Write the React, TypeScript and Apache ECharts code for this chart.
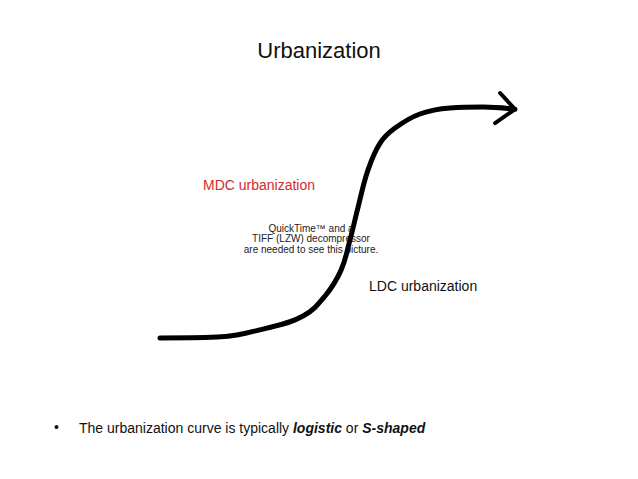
import React, { useEffect, useRef } from "react";
import * as echarts from "echarts";

// S-curve of urbanization (time % vs urban share %)
const curveX = [0, 16.1, 30.1, 40.3, 46.5, 51.0, 53.5, 55.8, 58.6, 62.0, 66.2, 73.2, 81.7, 91.0, 100];
const curveY = [0, 0.4, 4.3, 9.5, 18.2, 29.4, 42.4, 56.7, 72.8, 84.4, 90.9, 97.0, 99.6, 100, 99.1];
// arrow head arms
const arrowX = [95.8, 100, 94.4];
const arrowY = [106.1, 99.1, 93.1];

const titleText = "Urbanization";
const mdcLabel = "MDC urbanization";
const ldcLabel = "LDC urbanization";
const qtLines = ["QuickTime™ and a", "TIFF (LZW) decompressor", "are needed to see this picture."];

const FONT = "'Liberation Sans', Arial, Helvetica, sans-serif";

export default function App() {
  const ref = useRef<HTMLDivElement>(null);
  useEffect(() => {
    if (!ref.current) return;
    const chart = echarts.init(ref.current, undefined, { renderer: "svg" });
    chart.setOption({
      animation: false,
      backgroundColor: "#ffffff",
      title: {
        text: titleText,
        left: "center",
        top: 34,
        textStyle: { fontFamily: FONT, fontSize: 22, fontWeight: "normal", color: "#111" },
      },
      grid: { left: 160, right: 123, top: 84, bottom: 141 },
      xAxis: { type: "value", min: 0, max: 100, show: false },
      yAxis: { type: "value", min: 0, max: 110, show: false },
      series: [
        {
          type: "line",
          data: curveX.map((x, i) => [x, curveY[i]]),
          smooth: 0.4,
          symbol: "none",
          clip: false,
          lineStyle: { color: "#000", width: 5, cap: "round", join: "round" },
        },
        {
          type: "line",
          data: arrowX.map((x, i) => [x, arrowY[i]]),
          symbol: "none",
          clip: false,
          lineStyle: { color: "#000", width: 4, cap: "round", join: "miter" },
        },
      ],
      graphic: [
        {
          type: "text",
          left: 203,
          top: 178,
          style: { text: mdcLabel, fill: "#d42a2a", font: `14px ${FONT}` },
        },
        {
          type: "text",
          left: 369,
          top: 279,
          style: { text: ldcLabel, fill: "#111", font: `14px ${FONT}` },
        },
        {
          type: "text",
          x: 311,
          y: 223,
          style: {
            text: qtLines.join("\n"),
            fill: "#222",
            font: `10px ${FONT}`,
            align: "center",
            lineHeight: 10.5,
          },
        },
        {
          type: "text",
          left: 54,
          top: 420,
          style: { text: "•", fill: "#111", font: `14px ${FONT}` },
        },
        {
          type: "text",
          left: 79,
          top: 421,
          style: {
            text: "{n|The urbanization curve is typically }{b|logistic}{n| or }{b|S-shaped}",
            rich: {
              n: { fontFamily: FONT, fontSize: 14, fill: "#111" },
              b: { fontFamily: FONT, fontSize: 14, fontWeight: "bold", fontStyle: "italic", fill: "#111" },
            },
          },
        },
      ],
    });
    return () => chart.dispose();
  }, []);
  return <div ref={ref} style={{ width: 638, height: 479, position: "absolute", left: 0, top: 0 }} />;
}
